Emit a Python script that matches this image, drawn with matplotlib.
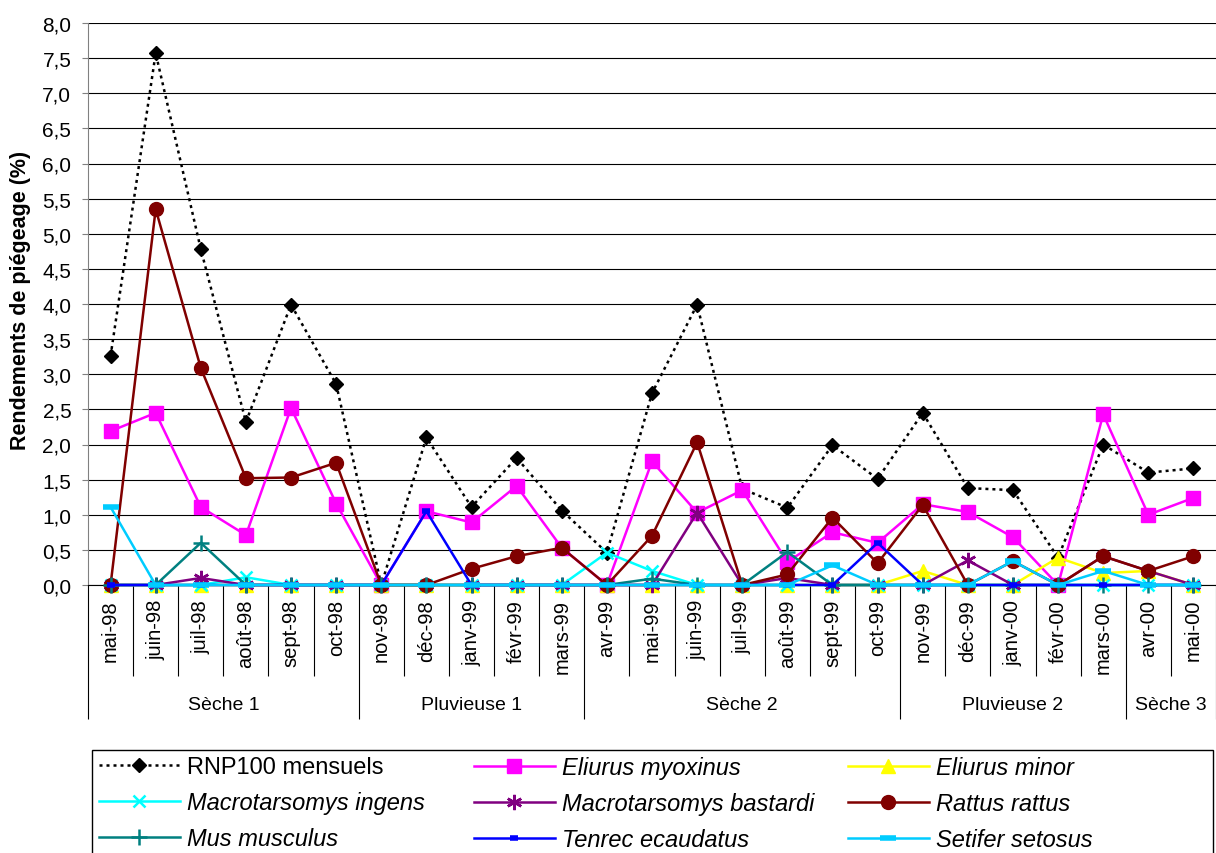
import matplotlib
matplotlib.use("Agg")
import matplotlib.pyplot as plt
from matplotlib.patches import Rectangle
from matplotlib.ticker import FuncFormatter, MultipleLocator

# =========================================
# DATA (rendements de piegeage, %)
# =========================================
months = ["mai-98", "juin-98", "juil-98", "août-98", "sept-98", "oct-98",
          "nov-98", "déc-98", "janv-99", "févr-99", "mars-99",
          "avr-99", "mai-99", "juin-99", "juil-99", "août-99", "sept-99", "oct-99",
          "nov-99", "déc-99", "janv-00", "févr-00", "mars-00",
          "avr-00", "mai-00"]

seasons = ["Sèche 1", "Pluvieuse 1", "Sèche 2", "Pluvieuse 2", "Sèche 3"]
season_len = [6, 5, 7, 5, 2]

rnp100 = [3.26, 7.57, 4.78, 2.32, 3.99, 2.86, 0.0, 2.10, 1.11, 1.81, 1.06,
          0.46, 2.73, 3.99, 1.37, 1.10, 1.99, 1.51, 2.45, 1.38, 1.35, 0.39,
          2.00, 1.60, 1.66]
e_myoxinus = [2.19, 2.45, 1.11, 0.71, 2.52, 1.16, 0.0, 1.05, 0.89, 1.41, 0.53,
              0.0, 1.76, 1.03, 1.35, 0.33, 0.75, 0.60, 1.15, 1.04, 0.68, 0.0,
              2.43, 1.00, 1.24]
e_minor = [0, 0, 0, 0, 0, 0, 0, 0, 0, 0, 0, 0, 0, 0, 0, 0, 0, 0, 0.20, 0, 0,
           0.39, 0.17, 0.20, 0]
m_ingens = [0, 0, 0, 0.11, 0, 0, 0, 0, 0, 0, 0, 0.46, 0.20, 0, 0, 0, 0, 0, 0,
            0, 0, 0, 0, 0, 0]
m_bastardi = [0, 0, 0.10, 0, 0, 0, 0, 0, 0, 0, 0, 0, 0, 1.03, 0, 0.10, 0, 0,
              0, 0.35, 0, 0, 0.41, 0.20, 0]
r_rattus = [0, 5.35, 3.09, 1.52, 1.53, 1.74, 0, 0, 0.23, 0.41, 0.53, 0, 0.70,
            2.03, 0, 0.15, 0.96, 0.31, 1.14, 0, 0.34, 0, 0.41, 0.20, 0.41]
m_musculus = [0, 0, 0.60, 0, 0, 0, 0, 0, 0, 0, 0, 0, 0.09, 0, 0, 0.47, 0, 0,
              0, 0, 0, 0, 0, 0, 0]
t_ecaudatus = [0, 0, 0, 0, 0, 0, 0, 1.05, 0, 0, 0, 0, 0, 0, 0, 0, 0, 0.60, 0,
               0, 0, 0, 0, 0, 0]
s_setosus = [1.11, 0, 0, 0, 0, 0, 0, 0, 0, 0, 0, 0, 0, 0, 0, 0, 0.28, 0, 0, 0,
             0.34, 0, 0.20, 0, 0]

# =========================================
# STYLE
# =========================================
plt.rcParams.update({
    "font.family": "Liberation Sans",
    "font.size": 14,
})

W, H = 1216, 854
fig = plt.figure(figsize=(W / 100, H / 100), dpi=100)
ax = fig.add_axes([88 / W, 1 - 586 / H, 1128 / W, 562 / H])

x = list(range(len(months)))

series = [
    ("RNP100 mensuels", rnp100, dict(color="black", ls=(0, (1.2, 1.6)), lw=1.8,
                                     marker="D", ms=7, mfc="black", mec="black"), False),
    ("Eliurus myoxinus", e_myoxinus, dict(color="#FF00FF", lw=1.8, marker="s", ms=10.5), True),
    ("Eliurus minor", e_minor, dict(color="#FFFF00", lw=1.8, marker="^", ms=10), True),
    ("Macrotarsomys ingens", m_ingens, dict(color="#00FFFF", lw=1.8, marker="x", ms=9, mew=1.8), True),
    ("Macrotarsomys bastardi", m_bastardi, dict(color="#800080", lw=1.8, marker=(6, 2, 0), ms=11, mew=1.8), True),
    ("Rattus rattus", r_rattus, dict(color="#800000", lw=1.8, marker="o", ms=10), True),
    ("Mus musculus", m_musculus, dict(color="#008080", lw=1.8, marker="+", ms=11, mew=1.8), True),
    ("Tenrec ecaudatus", t_ecaudatus, dict(color="#0000FF", lw=1.8, marker="_", ms=6, mew=4), True),
    ("Setifer setosus", s_setosus, dict(color="#00CCFF", lw=1.8, marker="_", ms=11, mew=4), True),
]

handles = []
for i, (name, vals, kw, italic) in enumerate(series):
    ln, = ax.plot(x, vals, label=name, zorder=3 + i, clip_on=False, **kw)
    handles.append((ln, italic))

# axes
ax.set_xlim(-0.5, len(months) - 0.5)
ax.set_ylim(0, 8)
ax.yaxis.set_major_locator(MultipleLocator(0.5))
ax.yaxis.set_major_formatter(FuncFormatter(lambda v, p: f"{v:.1f}".replace(".", ",")))
ax.grid(axis="y", color="black", lw=0.8)
ax.set_axisbelow(True)
for s in ["top", "right"]:
    ax.spines[s].set_visible(False)
ax.spines["left"].set_color("#808080")
ax.spines["bottom"].set_color("black")
ax.tick_params(axis="y", direction="out", length=4, color="#808080", pad=8, labelsize=15)

ax.set_xticks(x)
ax.set_xticklabels(months, rotation=90, fontsize=14.5)
ax.tick_params(axis="x", length=0, pad=10)

# category separators + season separators below the axis
trans = ax.get_xaxis_transform()
starts = [0]
for n in season_len:
    starts.append(starts[-1] + n)
bounds = set(s - 0.5 for s in starts)
cat_sep = [i + 0.5 for i in range(len(months) - 1) if (i + 0.5) not in bounds]
ax.vlines(cat_sep, -0.162, 0, transform=trans, colors="black", lw=0.8, clip_on=False)
ax.vlines(sorted(bounds), -0.238, 0, transform=trans, colors="black", lw=0.8, clip_on=False)

for name, a, b in zip(seasons, starts[:-1], starts[1:]):
    ax.text((a + b - 1) / 2, -0.212, name, transform=trans, ha="center", va="center", fontsize=14)

fig.text(21 / W, 1 - 300 / H, "Rendements de piégeage (%)", rotation=90,
         ha="center", va="center", fontsize=15.5, fontweight="bold")

# =========================================
# LEGEND (3 columns, framed box cut at bottom)
# =========================================
col_x = [99, 474, 848]
for c in range(3):
    col = handles[c::3]
    leg = fig.legend([h for h, _ in col], [h.get_label() for h, _ in col],
                     loc="upper left", bbox_to_anchor=(col_x[c] / W, 1 - 757 / H),
                     frameon=False, borderpad=0, borderaxespad=0, fontsize=17,
                     handlelength=3.43, handletextpad=0.3, labelspacing=0.56,
                     numpoints=1)
    for t, (_, it) in zip(leg.get_texts(), col):
        if it:
            t.set_style("italic")

fig.add_artist(Rectangle((91.7 / W, 1 - 870 / H), (1213 - 91.7) / W, (870 - 750.7) / H,
                         transform=fig.transFigure, fill=False, ec="black", lw=1))

fig.savefig("out.png", dpi=100)
